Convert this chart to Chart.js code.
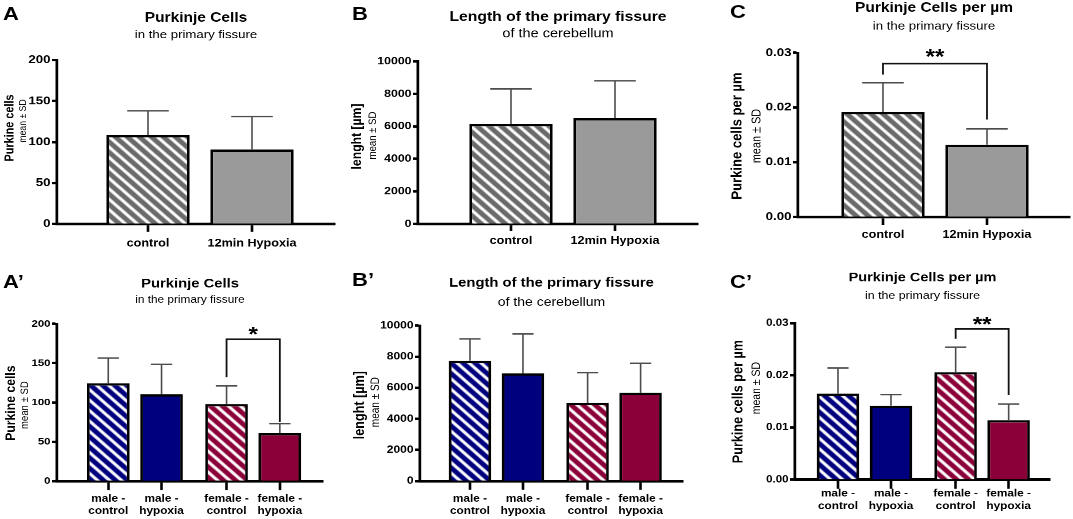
<!DOCTYPE html>
<html>
<head>
<meta charset="utf-8">
<script src="https://cdn.jsdelivr.net/npm/chart.js"></script>
<style>
html, body { margin: 0; padding: 0; background: #fff; overflow: hidden; }
/* the figure is laid out K times taller and squeezed back, like the source image */
#fig { position: absolute; left: 0; top: 0; width: 1073px; transform-origin: 0 0; }
.panel { position: absolute; }
.tag { position: absolute; font: bold 22px/1 "Liberation Sans", Arial, sans-serif; color: #000; }
</style>
</head>
<body>
<div id="fig"></div>
<script>
const FONT = '"Liberation Sans", Arial, sans-serif';
Chart.defaults.font.family = FONT;
Chart.defaults.color = '#000';

// categories
const groups = ['control', '12min Hypoxia'];
const groupsBySex = [['male -', 'control'], ['male -', 'hypoxia'], ['female -', 'control'], ['female -', 'hypoxia']];

// y tick labels
const cellTicks = [0, 50, 100, 150, 200];
const lengthTicks = [0, 2000, 4000, 6000, 8000, 10000];
const densityTicks = [0, 0.01, 0.02, 0.03];

// mean and SD per group
const cellsMean = [108.5, 91];
const cellsSD = [29.5, 40];
const lengthMean = [6150, 6500];
const lengthSD = [2150, 2300];
const densityMean = [0.0192, 0.0132];
const densitySD = [0.0053, 0.0029];

const cellsSexMean = [124.5, 110.5, 98, 61];
const cellsSexSD = [32, 38, 23, 12];
const lengthSexMean = [7740, 6930, 5030, 5680];
const lengthSexSD = [1400, 2535, 1940, 1895];
const densitySexMean = [0.0165, 0.0142, 0.0206, 0.0114];
const densitySexSD = [0.0049, 0.0021, 0.0048, 0.0031];

// significance: [from bar, to bar, bracket top, left leg end, right leg end, label]
const sigDensity = [0, 1, 0.028, 0.026, 0.0178, '**'];
const sigCellsSex = [2, 3, 180.5, 132, 75, '*'];
const sigDensitySex = [2, 3, 0.0289, 0.027, 0.0162, '**'];

// x positions of the bars (gap between the male and female pairs)
const pos2 = [0, 1];
const pos4 = [0, 1, 2.22, 3.22];

const NAVY = '#00007f';
const WINE = '#8c0039';
const GREY_D = '#6a6a6a';
const GREY = '#9a9a9a';

const K = 1.15;            // vertical stretch of the layout before squeezing
const PANEL_H = 259.5;     // one row, in picture pixels
const fig = document.getElementById('fig');
fig.style.height = (519 * K) + 'px';
fig.style.transform = 'scaleY(' + (1 / K) + ')';

[['A', 3, 6.7], ['B', 352, 7], ['C', 730, 5], ['A’', 3, 275], ['B’', 352, 273], ['C’', 730, 275]]
  .forEach(([t, x, capTop]) => {
    const d = document.createElement('div');
    d.className = 'tag';
    d.textContent = t;
    d.style.left = x + 'px';
    d.style.top = (capTop * K - 2.87) + 'px';
    fig.appendChild(d);
  });

function hatch(color) {
  const c = document.createElement('canvas');
  c.width = 12; c.height = 12;
  const g = c.getContext('2d');
  g.fillStyle = color;
  g.fillRect(0, 0, 12, 12);
  g.strokeStyle = '#fff';
  g.lineWidth = 3.3;
  g.beginPath();
  for (const k of [-12, 0, 12]) { g.moveTo(k - 3, -3); g.lineTo(k + 15, 15); }
  g.stroke();
  return g.createPattern(c, 'repeat');
}

const errorBars = {
  id: 'errorBars',
  afterDatasetsDraw(chart) {
    const ds = chart.data.datasets[0];
    const meta = chart.getDatasetMeta(0);
    const y = chart.scales.y;
    const ctx = chart.ctx;
    ctx.save();
    ctx.strokeStyle = '#4d4d4d';
    ctx.lineWidth = 1.6;
    meta.data.forEach((bar, i) => {
      const top = y.getPixelForValue(ds.data[i].y + ds.sd[i]);
      const half = bar.width / 4;
      ctx.beginPath();
      ctx.moveTo(bar.x, bar.y);
      ctx.lineTo(bar.x, top);
      ctx.moveTo(bar.x - half, top);
      ctx.lineTo(bar.x + half, top);
      ctx.stroke();
    });
    ctx.restore();
  }
};

const sigBracket = {
  id: 'sigBracket',
  afterDatasetsDraw(chart, args, o) {
    const s = o.mark;
    if (!s) return;
    const meta = chart.getDatasetMeta(0);
    const y = chart.scales.y;
    const ctx = chart.ctx;
    const x1 = meta.data[s[0]].x, x2 = meta.data[s[1]].x;
    const yt = y.getPixelForValue(s[2]);
    ctx.save();
    ctx.strokeStyle = '#111';
    ctx.lineWidth = 1.8;
    ctx.beginPath();
    ctx.moveTo(x1, y.getPixelForValue(s[3]));
    ctx.lineTo(x1, yt);
    ctx.lineTo(x2, yt);
    ctx.lineTo(x2, y.getPixelForValue(s[4]));
    ctx.stroke();
    ctx.fillStyle = '#000';
    ctx.font = 'bold 24px ' + FONT;
    ctx.textAlign = 'center';
    ctx.textBaseline = 'alphabetic';
    ctx.fillText(s[5], (x1 + x2) / 2, yt - o.gap + 0.58 * 24);
    ctx.restore();
  }
};

const yTitle = {
  id: 'yTitle',
  afterDraw(chart, args, o) {
    const ctx = chart.ctx;
    ctx.save();
    ctx.fillStyle = '#000';
    ctx.textAlign = 'center';
    ctx.textBaseline = 'alphabetic';
    [[o.main, 'bold ' + o.mainSize + 'px ' + FONT, o.mainX, o.mainY * K],
     [o.sub, o.subSize + 'px ' + FONT, o.subX, o.subY * K]].forEach(([t, f, x, yy]) => {
      ctx.save();
      ctx.translate(x, yy);
      ctx.rotate(-Math.PI / 2);
      ctx.font = f;
      ctx.fillText(t, 0, 0);
      ctx.restore();
    });
    ctx.restore();
  }
};

// p: vertical positions in picture pixels from the panel top, horizontal in px
function panel(p) {
  const box = document.createElement('div');
  box.className = 'panel';
  box.style.left = p.left + 'px';
  box.style.top = (p.row * PANEL_H * K) + 'px';
  box.style.width = p.width + 'px';
  box.style.height = (PANEL_H * K) + 'px';
  const cv = document.createElement('canvas');
  box.appendChild(cv);
  fig.appendChild(box);

  const H = PANEL_H * K;
  const tPadTop = p.Yt * K - 0.6 * p.tSize;
  const sPadTop = p.Ys * K - 0.6 * p.sSize - (p.Yt * K + 0.6 * p.tSize);
  const sPadBottom = p.Yc * K - p.Ys * K - 0.6 * p.sSize;
  const xH = H - p.Yb * K;
  const xTick = p.tick * K;
  const xPad = (p.Lc - p.Yb) * K - xTick - 0.6 * p.xFont;

  return new Chart(cv, {
    type: 'bar',
    data: {
      datasets: [{
        data: p.pos.map((x, i) => ({ x: x, y: p.mean[i] })),
        sd: p.sd,
        backgroundColor: p.fills,
        borderColor: '#000',
        borderWidth: 2.7,
        borderSkipped: 'start',
        categoryPercentage: 0.8,
        barPercentage: 1
      }]
    },
    plugins: [errorBars, sigBracket, yTitle],
    options: {
      responsive: true,
      maintainAspectRatio: false,
      animation: false,
      events: [],
      devicePixelRatio: 2,
      layout: { padding: { left: 0, right: p.width - p.chartR, top: 0, bottom: 0 } },
      scales: {
        x: {
          type: 'linear', min: p.xMin, max: p.xMax, offset: false,
          afterBuildTicks: s => { s.ticks = p.pos.map(v => ({ value: v })); },
          afterFit: s => { s.height = xH; },
          grid: { display: true, drawOnChartArea: false, drawTicks: true, tickLength: xTick,
                  tickColor: '#000', tickWidth: 2.6, offset: false },
          border: { display: true, color: '#000', width: 3.1 },
          ticks: { autoSkip: false, maxRotation: 0, padding: xPad, color: '#000',
                   font: { size: p.xFont, weight: 'bold', lineHeight: 1.2 },
                   callback: (v, i) => p.labels[i] }
        },
        y: {
          min: 0, max: p.yTicks[p.yTicks.length - 1],
          afterBuildTicks: s => { s.ticks = p.yTicks.map(v => ({ value: v })); },
          afterFit: s => { s.width = p.chartL; },
          grid: { display: true, drawOnChartArea: false, drawTicks: true, tickLength: 5,
                  tickColor: '#000', tickWidth: 2.9 },
          border: { display: true, color: '#000', width: 2.7 },
          ticks: { padding: 1.5, color: '#000', font: { size: p.yFont, weight: 'bold' },
                   callback: v => p.fmt(v) }
        }
      },
      plugins: {
        legend: { display: false },
        tooltip: { enabled: false },
        title: { display: true, text: p.title, fullSize: false, color: '#000',
                 font: { size: p.tSize, weight: 'bold', lineHeight: 1.2 },
                 padding: { top: tPadTop, bottom: 0 } },
        subtitle: { display: true, text: p.sub, fullSize: false, color: '#000',
                    font: { size: p.sSize, weight: 'normal', lineHeight: 1.2 },
                    padding: { top: sPadTop, bottom: sPadBottom } },
        sigBracket: { mark: p.sig || null, gap: (p.sigGap || 0) * K },
        yTitle: p.yt
      }
    }
  });
}

const plain = v => String(v);
const twoDp = v => v.toFixed(2);

panel({
  left: 0, width: 350, row: 0, chartL: 57, chartR: 335,
  pos: pos2, labels: groups, mean: cellsMean, sd: cellsSD, fills: [hatch(GREY_D), GREY],
  yTicks: cellTicks, fmt: plain, xMin: -0.875, xMax: 1.798,
  Yt: 18, Ys: 35.3, Yc: 60, Yb: 224, Lc: 243.5, tick: 7.7,
  tSize: 15.5, sSize: 13.2, xFont: 12.6, yFont: 13.3,
  title: 'Purkinje Cells', sub: 'in the primary fissure',
  yt: { main: 'Purkine cells', mainSize: 12.5, mainX: 13.5, mainY: 128,
        sub: 'mean ± SD', subSize: 10, subX: 26, subY: 121 }
});

panel({
  left: 350, width: 360, row: 0, chartL: 68, chartR: 348,
  pos: pos2, labels: groups, mean: lengthMean, sd: lengthSD, fills: [hatch(GREY_D), GREY],
  yTicks: lengthTicks, fmt: plain, xMin: -0.894, xMax: 1.798,
  Yt: 17, Ys: 34, Yc: 61.3, Yb: 224, Lc: 240.8, tick: 7,
  tSize: 15.7, sSize: 14.5, xFont: 12.6, yFont: 12.3,
  title: 'Length of the primary fissure', sub: 'of the cerebellum',
  yt: { main: 'lenght [µm]', mainSize: 14, mainX: 11, mainY: 136.5,
        sub: 'mean ± SD', subSize: 11, subX: 26, subY: 135.5 }
});

panel({
  left: 710, width: 363, row: 0, chartL: 88, chartR: 360,
  pos: pos2, labels: groups, mean: densityMean, sd: densitySD, fills: [hatch(GREY_D), GREY],
  yTicks: densityTicks, fmt: twoDp, xMin: -0.817, xMax: 1.798,
  Yt: 8, Ys: 26.3, Yc: 52.7, Yb: 217, Lc: 235, tick: 8,
  tSize: 15.5, sSize: 13.2, xFont: 12.6, yFont: 13.3,
  title: 'Purkinje Cells per µm', sub: 'in the primary fissure',
  sig: sigDensity, sigGap: 12.3,
  yt: { main: 'Purkine cells per µm', mainSize: 15, mainX: 31.7, mainY: 136,
        sub: 'mean ± SD', subSize: 12.5, subX: 50.3, subY: 136 }
});

panel({
  left: 0, width: 350, row: 1, chartL: 57, chartR: 323,
  pos: pos4, labels: groupsBySex, mean: cellsSexMean, sd: cellsSexSD,
  fills: [hatch(NAVY), NAVY, hatch(WINE), WINE],
  yTicks: cellTicks, fmt: plain, xMin: -0.962, xMax: 4.03,
  Yt: 24.5, Ys: 40.5, Yc: 64.5, Yb: 221.2, Lc: 238.8, tick: 9,
  tSize: 14.8, sSize: 11.8, xFont: 11.8, yFont: 11.4,
  title: 'Purkinje Cells', sub: 'in the primary fissure',
  sig: sigCellsSex, sigGap: 10.3,
  yt: { main: 'Purkine cells', mainSize: 14, mainX: 15, mainY: 143.5,
        sub: 'mean ± SD', subSize: 11, subX: 28, subY: 145.5 }
});

panel({
  left: 350, width: 360, row: 1, chartL: 70, chartR: 333,
  pos: pos4, labels: groupsBySex, mean: lengthSexMean, sd: lengthSexSD,
  fills: [hatch(NAVY), NAVY, hatch(WINE), WINE],
  yTicks: lengthTicks, fmt: plain, xMin: -0.943, xMax: 4.02,
  Yt: 24, Ys: 43, Yc: 66.2, Yb: 221.2, Lc: 238.8, tick: 8.7,
  tSize: 14.8, sSize: 14, xFont: 11.8, yFont: 12,
  title: 'Length of the primary fissure', sub: 'of the cerebellum',
  yt: { main: 'lenght [µm]', mainSize: 14.5, mainX: 14, mainY: 145.5,
        sub: 'mean ± SD', subSize: 11.5, subX: 29, subY: 142.5 }
});

panel({
  left: 710, width: 363, row: 1, chartL: 85, chartR: 340,
  pos: pos4, labels: groupsBySex, mean: densitySexMean, sd: densitySexSD,
  fills: [hatch(NAVY), NAVY, hatch(WINE), WINE],
  yTicks: densityTicks, fmt: twoDp, xMin: -0.811, xMax: 4.0,
  Yt: 18.5, Ys: 36.5, Yc: 63.8, Yb: 219.8, Lc: 233.8, tick: 9,
  tSize: 14.5, sSize: 12.4, xFont: 11.8, yFont: 11.5,
  title: 'Purkinje Cells per µm', sub: 'in the primary fissure',
  sig: sigDensitySex, sigGap: 10,
  yt: { main: 'Purkine cells per µm', mainSize: 14.5, mainX: 32.3, mainY: 142,
        sub: 'mean ± SD', subSize: 12, subX: 50, subY: 128.5 }
});
</script>
</body>
</html>
